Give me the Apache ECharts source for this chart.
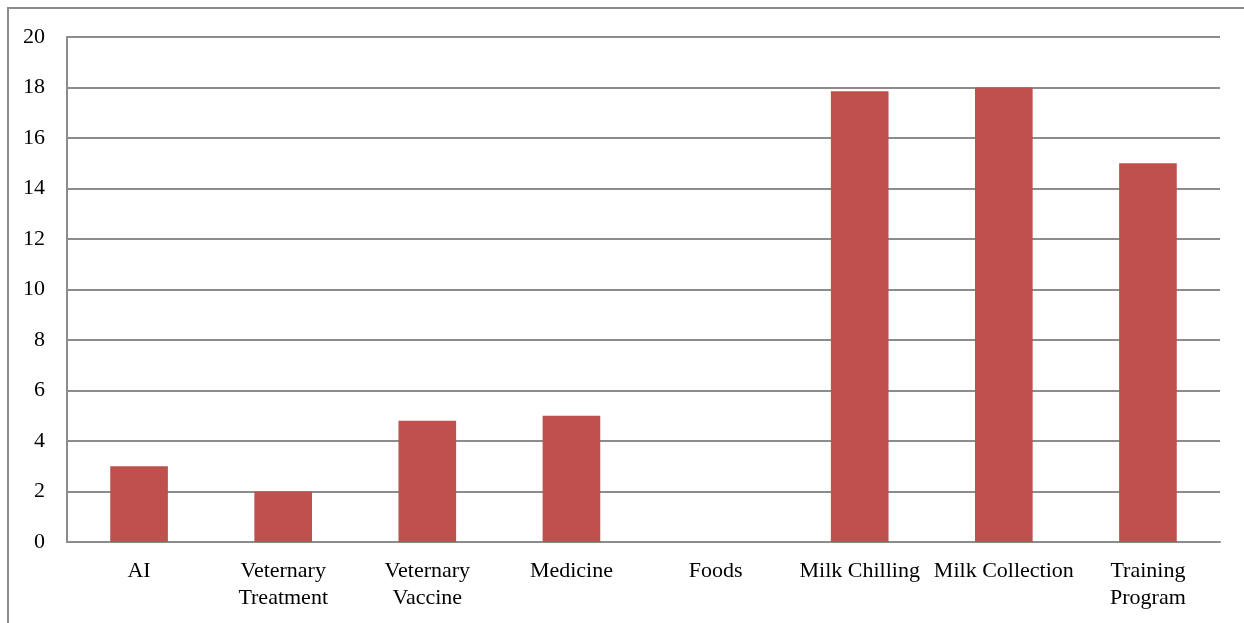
<!DOCTYPE html>
<html>
<head>
<meta charset="utf-8">
<script src="https://cdn.jsdelivr.net/npm/echarts@6/dist/echarts.min.js"></script>
<style>
  html, body { margin: 0; padding: 0; background: #fff; }
  #frame {
    position: absolute; left: 7px; top: 7px; width: 1237px; height: 616px;
    border-left: 2px solid #8c8c8c; border-top: 2px solid #8c8c8c;
    box-sizing: border-box;
  }
  #chart { position: absolute; left: 0; top: 0; width: 1244px; height: 623px; }
</style>
</head>
<body>
<div id="frame"></div>
<div id="chart"></div>
<script>
  // categories and values
  var categories = ['AI', 'Veternary\nTreatment', 'Veternary\nVaccine', 'Medicine', 'Foods',
                    'Milk Chilling', 'Milk Collection', 'Training\nProgram'];
  var values = [3, 2, 4.8, 5, 0, 17.85, 18, 15];
  var yTicks = [0, 2, 4, 6, 8, 10, 12, 14, 16, 18, 20];

  var myChart = echarts.init(document.getElementById('chart'));
  myChart.setOption({
    animation: false,
    grid: { left: 67, right: 24, top: 37, bottom: 81 },
    xAxis: {
      type: 'category',
      data: categories,
      axisLine: { lineStyle: { color: '#8c8c8c', width: 2 } },
      axisTick: { show: false },
      axisLabel: {
        interval: 0,
        margin: 16,
        color: '#000',
        fontFamily: 'Liberation Serif',
        fontSize: 22,
        lineHeight: 27
      }
    },
    yAxis: {
      type: 'value',
      min: yTicks[0],
      max: yTicks[yTicks.length - 1],
      interval: 2,
      axisLine: { show: true, lineStyle: { color: '#8c8c8c', width: 2 } },
      axisTick: { show: false },
      splitLine: { lineStyle: { color: '#8c8c8c', width: 2 } },
      axisLabel: {
        margin: 22,
        color: '#000',
        fontFamily: 'Liberation Serif',
        fontSize: 22
      }
    },
    series: [{
      type: 'bar',
      data: values,
      barWidth: '40%',
      itemStyle: { color: '#c0504d' }
    }]
  });
</script>
</body>
</html>
